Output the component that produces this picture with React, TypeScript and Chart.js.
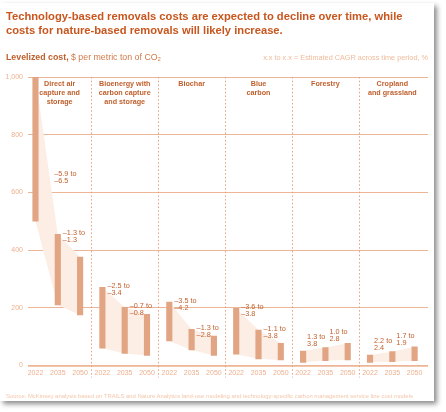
import { useEffect, useRef } from "react"
import { Chart, registerables } from "chart.js"

Chart.register(...registerables)

// Panel (removal method) titles, one entry per line
const panels = [
  ["Direct air", "capture and", "storage"],
  ["Bioenergy with", "carbon capture", "and storage"],
  ["Biochar"],
  ["Blue", "carbon"],
  ["Forestry"],
  ["Cropland", "and grassland"],
]
const years = ["2022", "2035", "2050"]

// Levelized cost range, $ per metric ton of CO2 (3 years per panel)
const costLow = [500, 210, 175, 60, 42, 35, 85, 54, 35, 39, 23, 19, 11, 17, 19, 11, 13, 17]
const costHigh = [1000, 455, 376, 271, 202, 177, 220, 125, 102, 198, 123, 77, 50, 62, 77, 36, 48, 65]

// Estimated CAGR ranges, % (2 periods per panel)
const cagrFrom = [-5.9, -1.3, -2.5, -0.7, -3.5, -1.3, -3.6, -1.1, 1.3, 1.0, 2.2, 1.7]
const cagrTo = [-6.5, -1.3, -3.4, -0.8, -4.2, -2.8, -3.8, -3.8, 3.8, 2.8, 2.4, 1.9]

const yTicks = [0, 200, 400, 600, 800, 1000]

const FONT = "'Liberation Sans', Arial, sans-serif"
const TITLE = "#C8561E"
const DARK = "#BF5F2C"
const BAR = "#E2A584"
const BAND = "#FCEDE5"
const GRID = "#EDB495"
const LIGHT = "#EDB190"
const labelCeiling = 664

const fmt = (v: number) => (v < 0 ? "\u2013" + Math.abs(v).toFixed(1) : v.toFixed(1))

const overlayPlugin = {
  id: "overlay",
  beforeDatasetsDraw(chart: any) {
    const { ctx, chartArea, scales } = chart
    const x = scales.x
    ctx.save()
    ctx.strokeStyle = "#E8A07C"
    ctx.lineWidth = 1
    ctx.setLineDash([1.5, 2.2])
    for (let p = 1; p < panels.length; p++) {
      const px = Math.round(x.getPixelForValue(p * 3 - 0.5)) + 0.5
      ctx.beginPath()
      ctx.moveTo(px, chartArea.top)
      ctx.lineTo(px, chartArea.bottom + 12)
      ctx.stroke()
    }
    ctx.restore()
  },
  afterDatasetsDraw(chart: any) {
    const { ctx, chartArea, scales } = chart
    const x = scales.x
    const y = scales.y
    ctx.save()
    ctx.fillStyle = DARK
    ctx.textBaseline = "middle"

    // panel titles
    ctx.font = `bold 7.2px ${FONT}`
    ctx.textAlign = "center"
    panels.forEach((lines, p) => {
      const left = Math.max(x.getPixelForValue(p * 3 - 0.5), chartArea.left)
      const right = Math.min(x.getPixelForValue(p * 3 + 2.5), chartArea.right)
      const cx = (left + right) / 2
      lines.forEach((t, k) => ctx.fillText(t, cx, chartArea.top + 7.5 + k * 9))
    })

    // CAGR labels
    ctx.font = `7.3px ${FONT}`
    ctx.textAlign = "left"
    cagrFrom.forEach((from, k) => {
      const i = Math.floor(k / 2) * 3 + (k % 2)
      let lx: number
      let ly: number
      if (from > 0) {
        lx = x.getPixelForValue(i) + 4
        ly = y.getPixelForValue(costHigh[i + 1]) - 11
      } else if (costHigh[i] > labelCeiling) {
        lx = x.getPixelForValue(i + 0.84)
        ly = y.getPixelForValue(labelCeiling)
      } else {
        lx = x.getPixelForValue(i) + 5
        ly = y.getPixelForValue(costHigh[i]) - 1
      }
      ctx.fillText(`${fmt(from)} to`, lx, ly)
      ctx.fillText(fmt(cagrTo[k]), lx, ly + 7)
    })
    ctx.restore()
  },
}

function CostChart() {
  const chartRef = useRef<HTMLCanvasElement>(null)
  const chartInstance = useRef<Chart | null>(null)

  useEffect(() => {
    if (!chartRef.current) return
    if (chartInstance.current) chartInstance.current.destroy()
    const ctx = chartRef.current.getContext("2d")
    if (!ctx) return

    // shaded band between consecutive bars, one lower/upper pair per panel
    const bandSets: any[] = []
    panels.forEach((_, p) => {
      const idx = [p * 3, p * 3 + 1, p * 3 + 2]
      bandSets.push({
        type: "line",
        data: idx.map((i) => ({ x: i, y: costLow[i] })),
        borderWidth: 0,
        pointRadius: 0,
        fill: false,
        order: 2,
      })
      bandSets.push({
        type: "line",
        data: idx.map((i) => ({ x: i, y: costHigh[i] })),
        borderWidth: 0,
        pointRadius: 0,
        backgroundColor: BAND,
        fill: "-1",
        order: 2,
      })
    })

    chartInstance.current = new Chart(ctx, {
      type: "bar",
      data: {
        datasets: [
          ...bandSets,
          {
            type: "bar",
            data: costLow.map((lo, i) => ({ x: i, y: [lo, costHigh[i]] })),
            backgroundColor: BAR,
            barThickness: 5.5,
            order: 1,
          },
        ],
      } as any,
      options: {
        responsive: false,
        animation: false,
        layout: { padding: { top: 77, right: 18, bottom: 26.5, left: 0 } },
        plugins: {
          legend: { display: false },
          tooltip: { enabled: false },
        },
        scales: {
          x: {
            type: "linear",
            offset: false,
            min: -0.336,
            max: 17.6,
            grid: { display: false, drawTicks: false, offset: false },
            border: { display: false },
            afterBuildTicks: (scale: any) => {
              scale.ticks = costLow.map((_, i) => ({ value: i }))
            },
            afterFit: (scale: any) => {
              scale.height = 20
            },
            ticks: {
              autoSkip: false,
              maxRotation: 0,
              padding: 3,
              color: LIGHT,
              font: { family: FONT, size: 7 },
              callback: (value: any) => years[Number(value) % 3],
            },
          },
          y: {
            min: 0,
            max: 1000,
            afterBuildTicks: (scale: any) => {
              scale.ticks = yTicks.map((v) => ({ value: v }))
            },
            afterFit: (scale: any) => {
              scale.width = 28
            },
            border: { display: false },
            grid: {
              color: GRID,
              drawTicks: false,
              lineWidth: (c: any) => (c.tick && c.tick.value === 0 ? 1.8 : 1),
            },
            ticks: {
              padding: 5,
              color: LIGHT,
              font: { family: FONT, size: 7 },
              callback: (value: any) => Number(value).toLocaleString("en-US"),
            },
          },
        },
      } as any,
      plugins: [overlayPlugin],
    })

    return () => {
      if (chartInstance.current) chartInstance.current.destroy()
      chartInstance.current = null
    }
  }, [])

  return (
    <canvas
      ref={chartRef}
      width={446}
      height={412}
      style={{ position: "absolute", left: 0, top: 0, width: 446, height: 412 }}
    />
  )
}

export default function App() {
  return (
    <div
      style={{
        position: "absolute",
        left: 0,
        top: 0,
        width: 446,
        height: 412,
        background: "#fff",
        overflow: "hidden",
        fontFamily: FONT,
      }}
    >
      <div
        style={{
          position: "absolute",
          left: 0,
          top: 3,
          width: 434,
          height: 398,
          background: "#fff",
          boxShadow: "3px 3px 5px rgba(0,0,0,0.45)",
        }}
      />
      <CostChart />
      <div
        style={{
          position: "absolute",
          left: 6,
          top: 8.5,
          fontSize: 11.2,
          lineHeight: "14px",
          fontWeight: "bold",
          color: TITLE,
          whiteSpace: "nowrap",
        }}
      >
        Technology-based removals costs are expected to decline over time, while
        <br />
        costs for nature-based removals will likely increase.
      </div>
      <div
        style={{
          position: "absolute",
          left: 6,
          top: 51.5,
          fontSize: 8.8,
          lineHeight: "10px",
          color: "#D27A4A",
          whiteSpace: "nowrap",
        }}
      >
        <b style={{ color: DARK }}>Levelized cost,</b> $ per metric ton of CO₂
      </div>
      <div
        style={{
          position: "absolute",
          right: 18,
          top: 54,
          fontSize: 7.3,
          lineHeight: "8px",
          color: "#F0BB9C",
          whiteSpace: "nowrap",
        }}
      >
        x.x to x.x = Estimated CAGR across time period, %
      </div>
      <div
        style={{
          position: "absolute",
          left: 6,
          top: 392,
          fontSize: 5.9,
          lineHeight: "8px",
          color: "#F3C6AB",
          whiteSpace: "nowrap",
        }}
      >
        Source: McKinsey analysis based on TRAILS and Nature Analytics land-use modeling and
        technology-specific carbon management service line cost models
      </div>
    </div>
  )
}
